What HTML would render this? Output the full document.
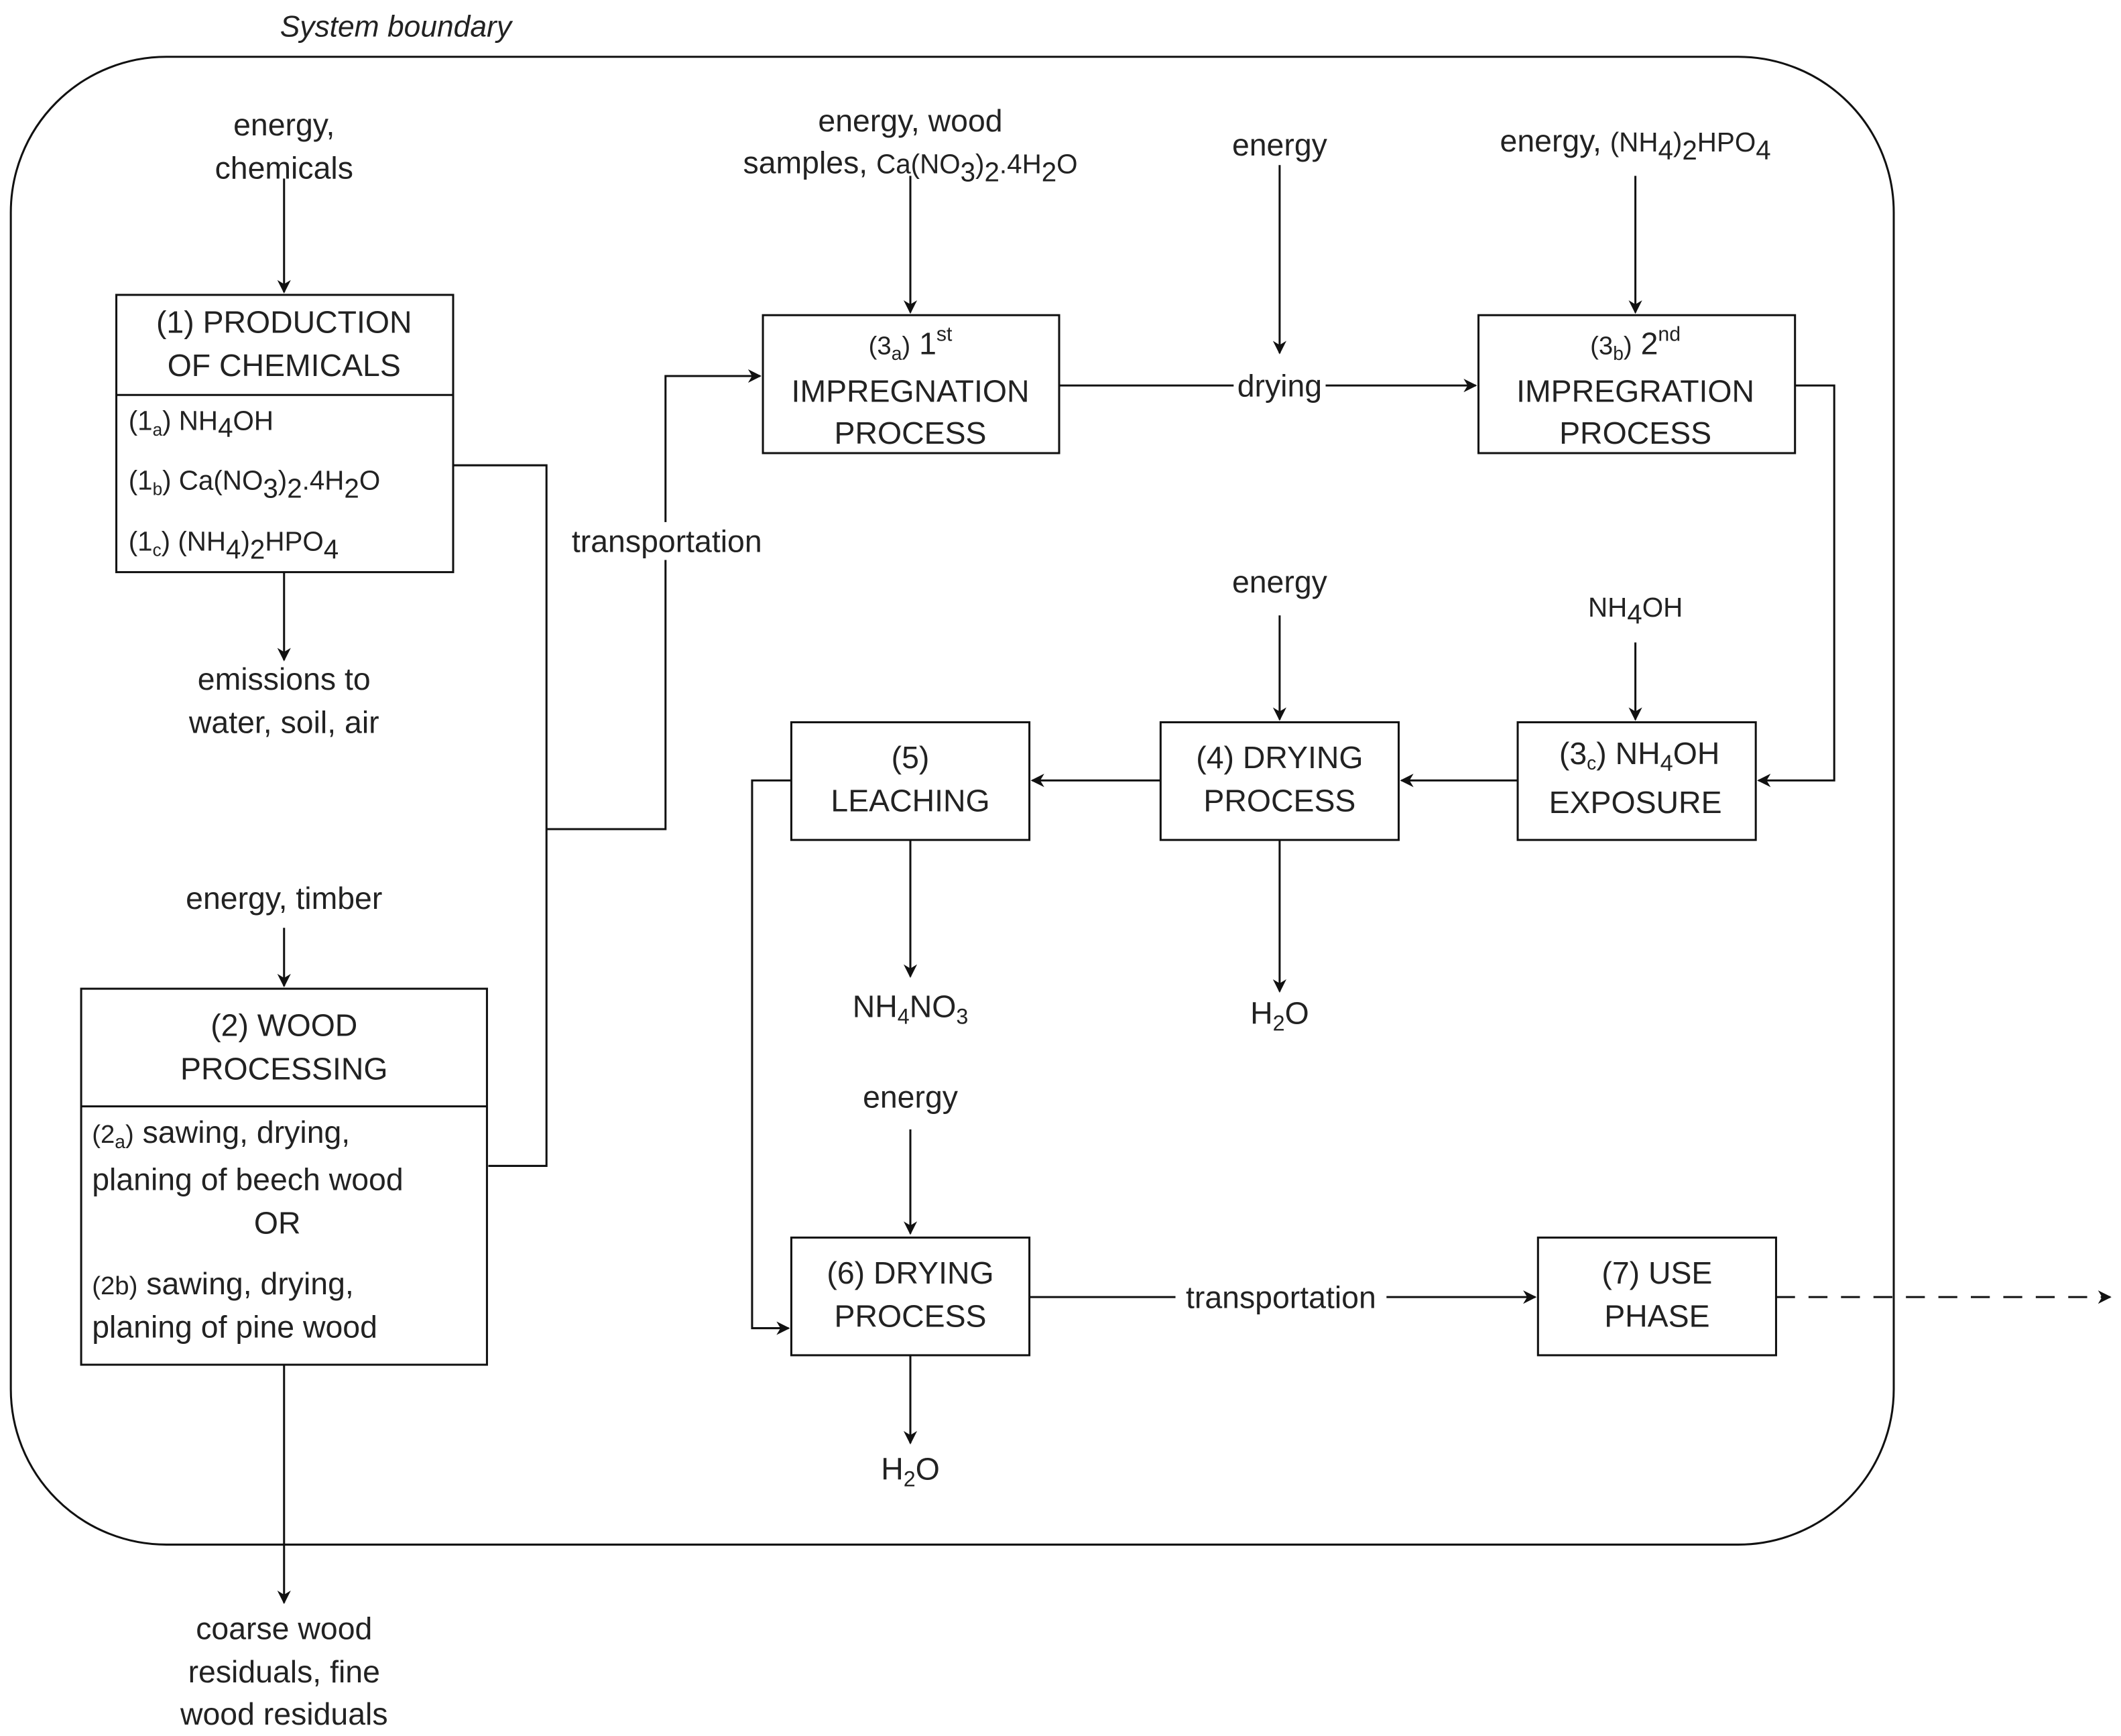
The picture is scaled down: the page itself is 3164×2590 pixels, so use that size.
<!DOCTYPE html>
<html><head><meta charset="utf-8"><style>
html,body{margin:0;padding:0;background:#fff}
svg{display:block}
text{font-family:"Liberation Sans",sans-serif;fill:#222}
</style></head><body>
<svg width="3164" height="2590" viewBox="0 0 1568 1283.5" xmlns="http://www.w3.org/2000/svg">
<defs><marker id="a" markerWidth="10" markerHeight="10" refX="9" refY="5" orient="auto" markerUnits="userSpaceOnUse"><path d="M0,0 L10,5 L0,10 L3,5 Z" fill="#111"/></marker></defs>
<g fill="none" stroke="#111" stroke-width="1.5">
<rect x="8" y="42" width="1392" height="1100" rx="115" ry="115"/>
<rect x="86" y="218" width="249" height="205" fill="#fff"/><line x1="86" y1="292" x2="335" y2="292"/>
<rect x="60" y="731" width="300" height="278" fill="#fff"/><line x1="60" y1="818" x2="360" y2="818"/>
<rect x="564" y="233" width="219" height="102"/>
<rect x="1093" y="233" width="234" height="102"/>
<rect x="1122" y="534" width="176" height="87"/>
<rect x="858" y="534" width="176" height="87"/>
<rect x="585" y="534" width="176" height="87"/>
<rect x="585" y="915" width="176" height="87"/>
<rect x="1137" y="915" width="176" height="87"/>
<line x1="210" y1="132" x2="210" y2="216" marker-end="url(#a)"/>
<line x1="210" y1="423" x2="210" y2="488" marker-end="url(#a)"/>
<polyline points="335,344 404,344 404,862 361,862"/>
<polyline points="404,613 492,613 492,278 562,278" marker-end="url(#a)"/>
<line x1="210" y1="686" x2="210" y2="729" marker-end="url(#a)"/>
<line x1="210" y1="1009" x2="210" y2="1185" marker-end="url(#a)"/>
<line x1="673" y1="130" x2="673" y2="231" marker-end="url(#a)"/>
<line x1="783" y1="285" x2="1091" y2="285" marker-end="url(#a)"/>
<line x1="946" y1="122" x2="946" y2="261" marker-end="url(#a)"/>
<line x1="1209" y1="130" x2="1209" y2="231" marker-end="url(#a)"/>
<polyline points="1327,285 1356,285 1356,577 1300,577" marker-end="url(#a)"/>
<line x1="1209" y1="475" x2="1209" y2="532" marker-end="url(#a)"/>
<line x1="1122" y1="577" x2="1036" y2="577" marker-end="url(#a)"/>
<line x1="946" y1="455" x2="946" y2="532" marker-end="url(#a)"/>
<line x1="946" y1="621" x2="946" y2="733" marker-end="url(#a)"/>
<line x1="858" y1="577" x2="763" y2="577" marker-end="url(#a)"/>
<line x1="673" y1="621" x2="673" y2="722" marker-end="url(#a)"/>
<polyline points="585,577 556,577 556,982 583,982" marker-end="url(#a)"/>
<line x1="673" y1="835" x2="673" y2="912" marker-end="url(#a)"/>
<line x1="673" y1="1002" x2="673" y2="1067" marker-end="url(#a)"/>
<line x1="761" y1="959" x2="1135" y2="959" marker-end="url(#a)"/>
<line x1="1313" y1="959" x2="1560" y2="959" stroke-dasharray="14,10" marker-end="url(#a)"/>
</g>
<g fill="#fff"><rect x="418" y="386" width="150" height="28"/><rect x="912" y="272" width="68" height="28"/><rect x="869" y="946" width="156" height="28"/></g>
<text x="207" y="27" font-size="22" font-style="italic">System boundary</text>
<g font-size="23" text-anchor="middle">
<text x="210" y="100">energy,</text><text x="210" y="132">chemicals</text>
<text x="210" y="246">(1) PRODUCTION</text><text x="210" y="278">OF CHEMICALS</text>
<text x="210" y="510">emissions to</text><text x="210" y="542">water, soil, air</text>
<text x="493" y="408">transportation</text>
<text x="210" y="672">energy, timber</text>
<text x="210" y="766">(2) WOOD</text><text x="210" y="798">PROCESSING</text>
<text x="205" y="912">OR</text>
<text x="210" y="1212">coarse wood</text><text x="210" y="1244">residuals, fine</text><text x="210" y="1275">wood residuals</text>
<text x="673" y="97">energy, wood</text>
<text x="673" y="128">samples, <tspan font-size="20">Ca(NO</tspan><tspan font-size="20" dy="6">3</tspan><tspan font-size="20" dy="-6">)</tspan><tspan font-size="20" dy="6">2</tspan><tspan font-size="20" dy="-6">.4H</tspan><tspan font-size="20" dy="6">2</tspan><tspan font-size="20" dy="-6">O</tspan></text>
<text x="673" y="297">IMPREGNATION</text><text x="673" y="328">PROCESS</text>
<text x="946" y="293">drying</text>
<text x="946" y="115">energy</text>
<text x="1209" y="112">energy, <tspan font-size="20">(NH</tspan><tspan font-size="20" dy="6">4</tspan><tspan font-size="20" dy="-6">)</tspan><tspan font-size="20" dy="6">2</tspan><tspan font-size="20" dy="-6">HPO</tspan><tspan font-size="20" dy="6">4</tspan></text>
<text x="1209" y="297">IMPREGRATION</text><text x="1209" y="328">PROCESS</text>
<text x="1209" y="456" font-size="20">NH<tspan dy="5">4</tspan><tspan dy="-5">OH</tspan></text>
<text x="1212" y="565">(3<tspan font-size="14" dy="4">c</tspan><tspan dy="-4">) NH</tspan><tspan font-size="17" dy="5">4</tspan><tspan dy="-5">OH</tspan></text>
<text x="1209" y="601">EXPOSURE</text>
<text x="946" y="438">energy</text>
<text x="946" y="568">(4) DRYING</text><text x="946" y="600">PROCESS</text>
<text x="946" y="757">H<tspan font-size="16" dy="5">2</tspan><tspan dy="-5">O</tspan></text>
<text x="673" y="568">(5)</text><text x="673" y="600">LEACHING</text>
<text x="673" y="752">NH<tspan font-size="16" dy="5">4</tspan><tspan dy="-5">NO</tspan><tspan font-size="16" dy="5">3</tspan></text>
<text x="673" y="819">energy</text>
<text x="673" y="949">(6) DRYING</text><text x="673" y="981">PROCESS</text>
<text x="673" y="1094">H<tspan font-size="16" dy="5">2</tspan><tspan dy="-5">O</tspan></text>
<text x="947" y="967">transportation</text>
<text x="1225" y="949">(7) USE</text><text x="1225" y="981">PHASE</text>
</g>
<g font-size="23" text-anchor="middle">
<text x="673" y="262"><tspan font-size="19">(3</tspan><tspan font-size="14" dy="4">a</tspan><tspan font-size="19" dy="-4">)</tspan> 1<tspan font-size="15" dy="-10">st</tspan></text>
<text x="1209" y="262"><tspan font-size="19">(3</tspan><tspan font-size="14" dy="4">b</tspan><tspan font-size="19" dy="-4">)</tspan> 2<tspan font-size="15" dy="-10">nd</tspan></text>
</g>
<g font-size="20">
<text x="95" y="318">(1<tspan font-size="13" dy="4">a</tspan><tspan dy="-4">) NH</tspan><tspan dy="5">4</tspan><tspan dy="-5">OH</tspan></text>
<text x="95" y="362">(1<tspan font-size="13" dy="4">b</tspan><tspan dy="-4">) Ca(NO</tspan><tspan dy="6">3</tspan><tspan dy="-6">)</tspan><tspan dy="6">2</tspan><tspan dy="-6">.4H</tspan><tspan dy="6">2</tspan><tspan dy="-6">O</tspan></text>
<text x="95" y="407">(1<tspan font-size="13" dy="4">c</tspan><tspan dy="-4">) (NH</tspan><tspan dy="6">4</tspan><tspan dy="-6">)</tspan><tspan dy="6">2</tspan><tspan dy="-6">HPO</tspan><tspan dy="6">4</tspan></text>
</g>
<g font-size="23">
<text x="68" y="845"><tspan font-size="19">(2</tspan><tspan font-size="14" dy="4">a</tspan><tspan font-size="19" dy="-4">)</tspan> sawing, drying,</text>
<text x="68" y="880">planing of beech wood</text>
<text x="68" y="957"><tspan font-size="19">(2b)</tspan> sawing, drying,</text>
<text x="68" y="989">planing of pine wood</text>
</g>
</svg>
</body></html>
